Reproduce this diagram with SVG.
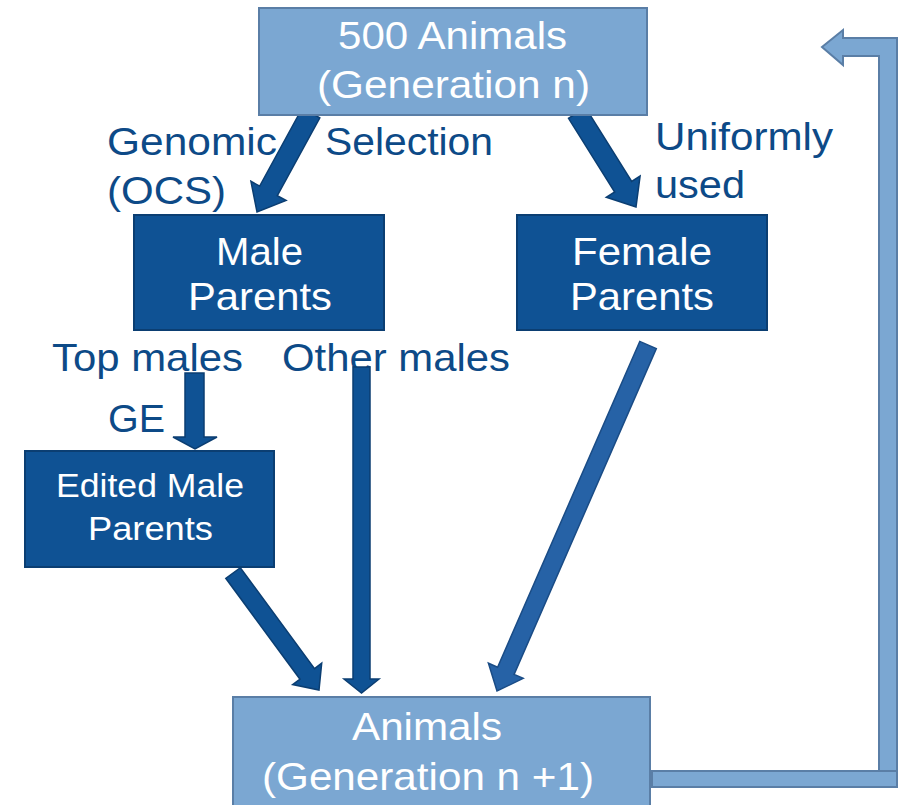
<svg xmlns="http://www.w3.org/2000/svg" width="899" height="805" viewBox="0 0 899 805">
<style>
  .light { fill: #7BA7D2; stroke: #5A7EA6; stroke-width: 2; }
  .dark { fill: #0F5294; stroke: #0B3E72; stroke-width: 2; }
  .arrow { fill: #0F5294; stroke: #0B3E72; stroke-width: 1.5; stroke-linejoin: miter; }
  .arrow2 { fill: #2662A6; stroke: #1A4C86; stroke-width: 1.5; }
  .loop { fill: #7BA7D2; stroke: #5A7EA6; stroke-width: 2; }
  text { font-family: "Liberation Sans", Arial, sans-serif; font-size: 39px; }
  .w { fill: #FFFFFF; text-anchor: middle; }
  .lbl { fill: #0D4A87; }
  .sm { font-size: 34px; }
</style>

<g id="labels">
  <text class="lbl" x="107" y="155" textLength="170" lengthAdjust="spacingAndGlyphs">Genomic</text>
  <text class="lbl" x="107" y="204" textLength="119" lengthAdjust="spacingAndGlyphs">(OCS)</text>
  <text class="lbl" x="325" y="155" textLength="168" lengthAdjust="spacingAndGlyphs">Selection</text>
  <text class="lbl" x="655" y="150" textLength="178" lengthAdjust="spacingAndGlyphs">Uniformly</text>
  <text class="lbl" x="655" y="198" textLength="90" lengthAdjust="spacingAndGlyphs">used</text>
  <text class="lbl" x="52" y="371" textLength="191" lengthAdjust="spacingAndGlyphs">Top males</text>
  <text class="lbl" x="282" y="371" textLength="228" lengthAdjust="spacingAndGlyphs">Other males</text>
  <text class="lbl" x="108" y="432" textLength="57" lengthAdjust="spacingAndGlyphs">GE</text>
</g>

<g id="connectors">
  <polygon class="arrow" points="319.8,117.8 277.3,195.7 286.1,200.5 257,212 250.9,181.3 259.7,186.1 302.2,108.2"/>
  <polygon class="arrow" points="585.5,107.7 631.7,181.4 640.1,176.1 636,207 606.3,197.3 614.7,192.0 568.5,118.3"/>
  <polygon class="arrow" points="185,373 204,373 204,437 217,437 195,449 173,437 185,437"/>
  <polygon class="arrow" points="353,367 370,367 370,679 379,679 361.5,693 344,679 353,679"/>
  <polygon class="arrow" points="240.3,567.7 314.5,668.6 321.7,663.2 319,690 292.7,684.6 300.0,679.2 225.8,578.3"/>
  <polygon class="arrow2" points="656.3,348.6 514.1,674.4 523.2,678.4 497,691 488.4,663.2 497.6,667.2 639.8,341.4"/>
  <polygon class="loop" points="822,47 843,30 843,38 897,38 897,772 879,772 879,56 843,56 843,65"/>
  <rect class="loop" x="652" y="771" width="245" height="16"/>
</g>

<g id="node-top">
  <rect class="light" x="259" y="8" width="388" height="107"/>
  <text class="w" x="452.5" y="49" textLength="229" lengthAdjust="spacingAndGlyphs">500 Animals</text>
  <text class="w" x="453.5" y="98" textLength="273" lengthAdjust="spacingAndGlyphs">(Generation n)</text>
</g>

<g id="node-male">
  <rect class="dark" x="134" y="215" width="250" height="115"/>
  <text class="w" x="259.5" y="265" textLength="87" lengthAdjust="spacingAndGlyphs">Male</text>
  <text class="w" x="260" y="310" textLength="144" lengthAdjust="spacingAndGlyphs">Parents</text>
</g>

<g id="node-female">
  <rect class="dark" x="517" y="215" width="250" height="115"/>
  <text class="w" x="642" y="265" textLength="140" lengthAdjust="spacingAndGlyphs">Female</text>
  <text class="w" x="642" y="310" textLength="144" lengthAdjust="spacingAndGlyphs">Parents</text>
</g>

<g id="node-edited">
  <rect class="dark" x="25" y="451" width="249" height="116"/>
  <text class="w sm" x="150" y="497" textLength="188" lengthAdjust="spacingAndGlyphs">Edited Male</text>
  <text class="w sm" x="150.5" y="540" textLength="125" lengthAdjust="spacingAndGlyphs">Parents</text>
</g>

<g id="node-bottom">
  <rect class="light" x="233" y="697" width="417" height="130"/>
  <text class="w" x="427" y="740" textLength="150" lengthAdjust="spacingAndGlyphs">Animals</text>
  <text class="w" x="428" y="790" textLength="332" lengthAdjust="spacingAndGlyphs">(Generation n +1)</text>
</g>
</svg>
